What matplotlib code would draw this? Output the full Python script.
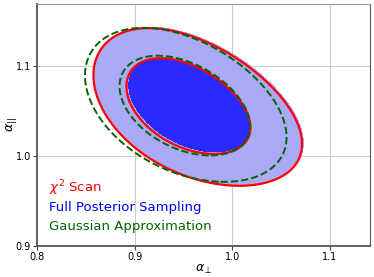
import numpy as np
import matplotlib
matplotlib.use("Agg")
import matplotlib.pyplot as plt

# likelihood shape parameters
# chi2 scan: slightly banana shaped, skewed along alpha_perp
scan_center = [0.9501, 1.0560]
scan_sigma = [0.041, 0.0347]
scan_rho = -0.45
scan_bend = 0.015
scan_widen = 1.06
scan_skew = -0.08
# full posterior sampling: same shape, nudged up-right a little
post_center = [0.9514, 1.0571]
# gaussian approximation
gauss_center = [0.9507, 1.0554]
gauss_sigma = [0.0438, 0.0363]
gauss_rho = -0.42
gauss_bend = 0.01
gauss_widen = 1.045

scan_levels = [2.30, 6.18]
gauss_levels = [2.30, 5.48]

legend_labels = [r"$\chi^2$ Scan", "Full Posterior Sampling", "Gaussian Approximation"]
legend_colors = ["red", "blue", "darkgreen"]


def chi2(X, Y, center, sigma, rho, bend=0.0, widen=1.0, skew=0.0):
    tx = (X - center[0]) / sigma[0]
    ty = (Y - center[1]) / sigma[1]
    u = (tx - ty) / np.sqrt(2)
    v = (tx + ty) / np.sqrt(2)
    q = u**2 / (1 - rho) + (v - bend * u**2)**2 / ((1 + rho) * widen)
    return q * (1 + skew * tx)


x = np.linspace(0.8, 1.141, 600)
y = np.linspace(0.9, 1.169, 600)
X, Y = np.meshgrid(x, y)

c_scan = chi2(X, Y, scan_center, scan_sigma, scan_rho, scan_bend, scan_widen, scan_skew)
c_post = chi2(X, Y, post_center, scan_sigma, scan_rho, scan_bend, scan_widen, scan_skew)
c_gauss = chi2(X, Y, gauss_center, gauss_sigma, gauss_rho, gauss_bend, gauss_widen)

fig = plt.figure(figsize=(3.74, 2.77), dpi=100)
ax = fig.add_axes([0.099, 0.112, 0.89, 0.874])

ax.grid(True, color="#cccccc", lw=0.8, zorder=0)
ax.set_axisbelow(True)

ax.contourf(X, Y, c_post, levels=[0, scan_levels[0], scan_levels[1]],
            colors=["#2a2aff", "#aaaaf8"], zorder=2)
ax.contour(X, Y, c_scan, levels=scan_levels, colors="red", linewidths=1.6, zorder=3)
ax.contour(X, Y, c_gauss, levels=gauss_levels, colors="darkgreen",
           linewidths=1.4, linestyles="--", zorder=4)

ax.set_xlim(0.8, 1.141)
ax.set_ylim(0.9, 1.169)
ax.set_xticks([0.8, 0.9, 1.0, 1.1])
ax.set_yticks([0.9, 1.0, 1.1])
ax.tick_params(labelsize=7, length=3, pad=1.5, color="#444444")
ax.set_xlabel(r"$\alpha_\perp$", fontsize=9)
ax.set_ylabel(r"$\alpha_{||}$", fontsize=9)
ax.xaxis.set_label_coords(0.5, -0.068)
ax.yaxis.set_label_coords(-0.054, 0.5)

for s in ["left", "bottom"]:
    ax.spines[s].set_color("#555555")
    ax.spines[s].set_linewidth(1.3)
ax.spines["top"].set_color("#999999")
ax.spines["right"].set_color("#555555")

ypos = [0.238, 0.159, 0.08]
for lab, col, yy in zip(legend_labels, legend_colors, ypos):
    ax.text(0.036, yy, lab, color=col, fontsize=9.5, transform=ax.transAxes,
            va="center", ha="left", zorder=5)

fig.savefig("out.png", dpi=100)
